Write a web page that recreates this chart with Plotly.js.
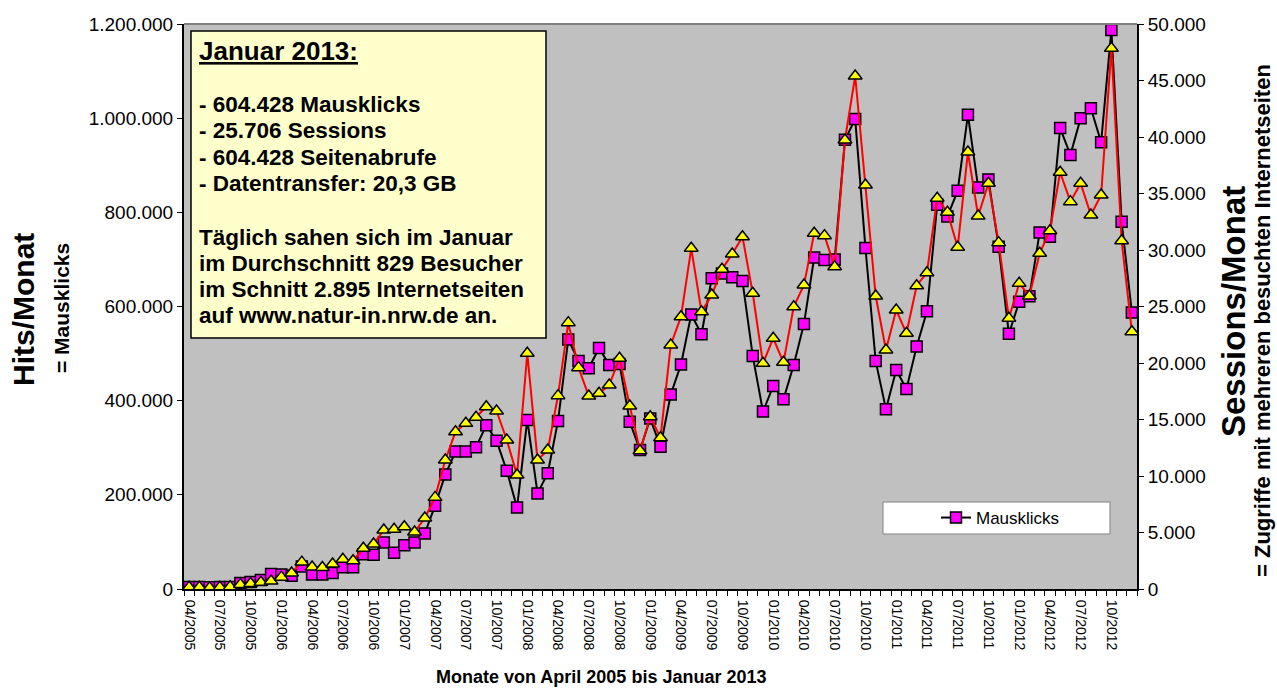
<!DOCTYPE html>
<html>
<head>
<meta charset="utf-8">
<script src="https://cdn.plot.ly/plotly-3.0.1.min.js"></script>
<style>
html,body{margin:0;padding:0;background:#fff;}
#chart{width:1277px;height:689px;}
</style>
</head>
<body>
<div id="chart"></div>
<script>
const months = [
"04/2005","05/2005","06/2005","07/2005","08/2005","09/2005","10/2005","11/2005","12/2005",
"01/2006","02/2006","03/2006","04/2006","05/2006","06/2006","07/2006","08/2006","09/2006","10/2006","11/2006","12/2006",
"01/2007","02/2007","03/2007","04/2007","05/2007","06/2007","07/2007","08/2007","09/2007","10/2007","11/2007","12/2007",
"01/2008","02/2008","03/2008","04/2008","05/2008","06/2008","07/2008","08/2008","09/2008","10/2008","11/2008","12/2008",
"01/2009","02/2009","03/2009","04/2009","05/2009","06/2009","07/2009","08/2009","09/2009","10/2009","11/2009","12/2009",
"01/2010","02/2010","03/2010","04/2010","05/2010","06/2010","07/2010","08/2010","09/2010","10/2010","11/2010","12/2010",
"01/2011","02/2011","03/2011","04/2011","05/2011","06/2011","07/2011","08/2011","09/2011","10/2011","11/2011","12/2011",
"01/2012","02/2012","03/2012","04/2012","05/2012","06/2012","07/2012","08/2012","09/2012","10/2012","11/2012","12/2012"
];

const mausklicks = [
4000,4000,3500,4000,4500,13000,15000,19000,32000,
31000,28000,48000,31000,31000,34000,46000,46000,74000,73000,99000,77000,
93000,99000,118000,177000,243000,292000,292000,301000,348000,315000,251000,173000,
359000,203000,246000,357000,530000,484000,469000,512000,476000,478000,355000,295000,
362000,302000,413000,477000,583000,541000,660000,670000,662000,654000,495000,377000,
431000,403000,476000,563000,704000,699000,700000,954000,998000,724000,484000,382000,
465000,425000,515000,590000,816000,791000,846000,1007000,853000,870000,727000,542000,
610000,622000,757000,748000,979000,922000,1000000,1021000,949000,1187000,780000,587000
];

const sessions = [
150,150,100,150,200,400,480,600,700,
1050,1420,2380,1950,1900,2210,2630,2500,3600,3980,5220,5280,
5510,5040,6280,8110,11420,13920,14660,15200,16130,15750,13190,10090,
20860,11420,12300,17110,23570,19590,17080,17320,18050,20420,16200,12240,
15250,13390,21600,24100,30150,24540,26020,28290,29650,31180,26170,19970,
22190,20060,24980,26900,31480,31270,28520,39740,45400,35750,25930,21150,
24690,22630,26840,27990,34580,33340,30240,38670,33010,35900,30650,23960,
27050,25930,29710,31710,36880,34280,35900,33100,34870,47850,30820,22770
];

const infoTitle = "Januar 2013:";
const infoLines = [
"- 604.428 Mausklicks",
"- 25.706 Sessions",
"- 604.428 Seitenabrufe",
"- Datentransfer: 20,3 GB",
"Täglich sahen sich im Januar",
"im Durchschnitt 829 Besucher",
"im Schnitt 2.895 Internetseiten",
"auf www.natur-in.nrw.de an."
];

// layout helpers (pixel -> paper)
const L = 184, R = 1137, T = 24, B = 589;
const px = x => (x - L) / (R - L);
const py = y => (B - y) / (B - T);
const FONT = "Arial, 'Liberation Sans', sans-serif";

const traceClicks = {
  x: months, y: mausklicks, type: 'scatter', mode: 'lines+markers',
  name: 'Mausklicks', yaxis: 'y',
  line: {color: '#000000', width: 2},
  marker: {symbol: 'square', size: 11, color: '#FF00FF', line: {color: '#000000', width: 1.5}}
};
const traceSessions = {
  x: months, y: sessions, type: 'scatter', mode: 'lines+markers',
  name: 'Sessions', yaxis: 'y2', showlegend: false,
  line: {color: '#FF0000', width: 2},
  marker: {symbol: 'triangle-up', size: 12, color: '#FFFF00', line: {color: '#000000', width: 1.5}}
};

const infoYs = [104, 130, 157, 183, 237, 263, 289, 315];
const annotations = [
  {text: '<b>Hits/Monat</b>', xref: 'paper', yref: 'paper', x: px(23), y: py(310), textangle: -90,
   showarrow: false, font: {family: FONT, size: 30, color: '#000'}, xanchor: 'center', yanchor: 'middle'},
  {text: '<b>= Mausklicks</b>', xref: 'paper', yref: 'paper', x: px(62), y: py(308), textangle: -90,
   showarrow: false, font: {family: FONT, size: 21, color: '#000'}, xanchor: 'center', yanchor: 'middle'},
  {text: '<b>Sessions/Monat</b>', xref: 'paper', yref: 'paper', x: px(1233), y: py(312), textangle: -90,
   showarrow: false, font: {family: FONT, size: 33, color: '#000'}, xanchor: 'center', yanchor: 'middle'},
  {text: '<b>= Zugriffe mit mehreren besuchten Internetseiten</b>', xref: 'paper', yref: 'paper', x: px(1262), y: py(321), textangle: -90,
   showarrow: false, font: {family: FONT, size: 22, color: '#000'}, xanchor: 'center', yanchor: 'middle'},
  {text: '<b>Monate von April 2005 bis Januar 2013</b>', xref: 'paper', yref: 'paper', x: px(601), y: py(677),
   showarrow: false, font: {family: FONT, size: 18, color: '#000'}, xanchor: 'center', yanchor: 'middle'},
  {text: '<b><u>' + infoTitle + '</u></b>', xref: 'paper', yref: 'paper', x: px(197), y: py(51),
   showarrow: false, font: {family: FONT, size: 26, color: '#000'}, xanchor: 'left', yanchor: 'middle'}
];
infoLines.forEach((t, i) => {
  annotations.push({text: '<b>' + t + '</b>', xref: 'paper', yref: 'paper', x: px(197), y: py(infoYs[i]),
    showarrow: false, font: {family: FONT, size: 22.5, color: '#000'}, xanchor: 'left', yanchor: 'middle'});
});

const layout = {
  width: 1277, height: 689,
  margin: {l: L, r: 1277 - R, t: T, b: 689 - B, pad: 0},
  paper_bgcolor: '#FFFFFF', plot_bgcolor: '#C0C0C0',
  separators: ',.',
  font: {family: FONT, color: '#000'},
  showlegend: true,
  legend: {x: px(936), y: py(518), xanchor: 'left', yanchor: 'middle', bgcolor: 'rgba(0,0,0,0)',
           borderwidth: 0, font: {family: FONT, size: 17, color: '#000'}},
  xaxis: {
    type: 'category', range: [-0.5, months.length - 0.5],
    tickmode: 'array', tickvals: months, ticktext: months.map((m, i) => i % 3 === 0 ? m : ''),
    tickson: 'boundaries', ticks: 'outside', ticklen: 5, tickcolor: '#000', tickwidth: 1,
    ticklabelstandoff: 6,
    tickangle: 90, tickfont: {family: FONT, size: 14, color: '#000'},
    showline: true, linecolor: '#000', linewidth: 2, showgrid: false, zeroline: false, fixedrange: true
  },
  yaxis: {
    range: [0, 1200000], dtick: 200000, tick0: 0, tickformat: ',d',
    ticks: 'outside', ticklen: 5, tickcolor: '#000', tickfont: {family: FONT, size: 19, color: '#000'},
    showline: true, linecolor: '#000', linewidth: 2, showgrid: false, zeroline: false, fixedrange: true
  },
  yaxis2: {
    overlaying: 'y', side: 'right', range: [0, 50000], dtick: 5000, tick0: 0, tickformat: ',d',
    ticks: 'outside', ticklen: 5, tickcolor: '#000', tickfont: {family: FONT, size: 19, color: '#000'},
    showline: true, linecolor: '#000', linewidth: 2, showgrid: false, zeroline: false, fixedrange: true
  },
  shapes: [
    {type: 'line', xref: 'paper', yref: 'paper', x0: 0, x1: 1, y0: 1, y1: 1, line: {color: '#808080', width: 2}},
    {type: 'rect', xref: 'paper', yref: 'paper', x0: px(191), x1: px(546), y0: py(31), y1: py(338),
     fillcolor: '#FFFFCC', line: {color: '#000', width: 1.5}, layer: 'above'},
    {type: 'rect', xref: 'paper', yref: 'paper', x0: px(883), x1: px(1110), y0: py(502), y1: py(534),
     fillcolor: '#FFFFFF', line: {color: '#808080', width: 1}, layer: 'below'}
  ],
  annotations: annotations
};

Plotly.newPlot('chart', [traceClicks, traceSessions], layout, {displayModeBar: false, staticPlot: true});
</script>
</body>
</html>
